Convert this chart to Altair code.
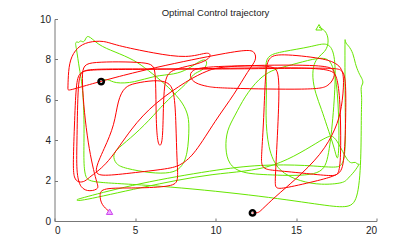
import altair as alt
import pandas as pd

# ---------------- data ----------------
red_x = [12.3, 12.65, 12.8, 13.7, 14.9, 16.6, 17.5, 17.85, 18.0, 17.85, 17.5, 16.8, 13.9, 13.3, 13.1, 13.0, 12.85, 12.85, 13.1, 13.7,
         15.7, 17.4, 17.7, 17.8, 17.75, 17.55, 17.2, 14.0, 10.0, 5.0, 2.0, 1.6, 1.35, 1.25, 1.15, 1.2, 1.5, 1.9, 2.2,
         3.3, 4.76, 6.2, 8.28, 9.5, 10.5, 16.8, 17.4, 17.4, 17.0, 16.2, 10.25, 9.5, 8.7, 8.38, 8.5, 9.3, 13.5, 14.0, 13.9, 13.7,
         13.7, 14.2, 16.56, 17.6, 18.0, 18.1, 18.1, 17.9, 17.3, 10.0, 2.5, 1.7, 1.45, 1.4, 1.35, 1.6, 2.2, 2.8, 2.6, 2.0, 1.6,
         2.0, 6.0, 6.3, 6.3, 6.4, 6.55, 6.7, 6.75, 6.8, 7.2, 8.7, 9.52, 9.73, 9.52, 8.28, 6.2, 3.73, 3.1, 2.07, 1.4, 0.95, 0.85,
         0.83, 0.83, 5.0, 9.97, 12.04, 12.45, 12.56, 12.04, 11.2, 10.0, 8.7, 7.9, 7.3, 5.0, 2.9, 2.4, 3.1, 3.73, 3.93, 4.35,
         4.97, 6.2, 7.04, 7.45, 7.55, 7.6, 7.7, 7.4, 5.0, 2.9, 2.8, 2.9, 3.42]
red_y = [0.4, 0.4, 0.5, 1.2, 2.0, 3.3, 4.6, 5.6, 7.0, 7.55, 7.8, 8.05, 8.3, 8.1, 7.5, 5.0, 3.2, 2.75, 2.55, 2.5,
         2.35, 2.2, 2.35, 3.5, 6.0, 7.2, 7.55, 7.6, 7.55, 7.5, 7.5, 7.35, 7.0, 5.0, 2.8, 2.1, 1.9, 1.95, 2.2,
         2.8, 4.6, 5.83, 6.98, 7.45, 7.7, 7.75, 7.5, 7.1, 6.65, 6.49, 6.57, 6.65, 6.82, 7.14, 7.47, 7.65, 7.72, 7.5, 5.0, 2.0,
         1.6, 1.6, 2.03, 2.28, 2.61, 5.25, 7.0, 7.5, 7.6, 7.5, 7.55, 7.45, 7.0, 4.0, 2.4, 1.6, 1.45, 1.6, 1.9, 4.0, 7.6,
         7.9, 7.88, 7.6, 5.0, 3.9, 3.68, 3.9, 5.0, 7.0, 7.5, 7.72, 7.97, 8.22, 8.38, 8.05, 8.3, 8.71, 8.93, 8.88, 8.6, 8.0, 7.2,
         6.45, 6.45, 7.4, 8.22, 8.5, 8.38, 7.97, 7.47, 6.3, 5.0, 3.3, 2.8, 2.6, 2.4, 2.2, 2.4, 3.6, 4.75, 5.99, 6.65,
         6.82, 6.98, 6.9, 6.49, 4.75, 3.0, 2.0, 1.7, 1.62, 1.65, 1.29, 0.8, 0.46]

green_x = [2.95, 3.3, 3.73, 4.97, 6.2, 7.45, 8.28, 9.1, 9.4, 9.5, 9.2, 8.6, 8.28, 7.0, 6.2, 4.97, 3.93, 3.6, 3.8, 4.35,
           6.0, 7.25, 7.87, 8.28, 8.38, 8.28, 7.87, 6.83, 5.8, 4.97, 3.73, 2.69, 2.03, 1.9, 1.75, 1.6, 1.5, 1.4, 1.28, 1.35,
           1.55, 1.76, 1.86, 1.8, 1.9, 2.3, 6.2, 12.4, 16.56, 18.2, 18.84, 19.05, 19.05, 19.1, 19.0, 19.2, 19.1, 18.9, 18.67,
           18.56, 18.25, 18.05, 18.04, 18.04, 18.1, 17.9, 17.6, 15.7, 12.8, 9.94, 5.2, 1.5, 1.35, 1.45, 5.3, 9.94, 13.66,
           16.98, 17.3, 17.6, 18.2, 18.5, 18.7, 18.85, 19.0, 18.6, 18.2, 18.0, 16.56, 15.3, 13.87, 13.25, 13.1, 13.2, 13.07,
           13.3, 14.1, 16.0, 16.8, 17.3, 17.5, 17.3, 17.0, 16.56, 13.25, 11.6, 10.8, 10.6, 10.7, 11.2, 11.8, 12.7, 13.5,
           14.3, 15.8, 16.8, 17.3, 17.6, 17.7, 17.6, 17.4, 16.9, 16.6, 16.2, 16.0, 16.1, 16.4, 16.8, 17.0, 17.0, 16.8, 16.43]
green_y = [6.95, 7.05, 6.8, 6.85, 7.2, 7.25, 7.5, 7.97, 8.0, 7.75, 7.45, 7.3, 6.82, 6.0, 5.25, 4.26, 3.6, 3.27, 2.8, 2.61,
           2.36, 2.36, 2.61, 3.27, 4.75, 5.33, 5.99, 6.82, 7.47, 7.97, 8.38, 8.71, 9.29, 8.9, 8.85, 8.95, 8.8, 8.9, 8.8, 8.63,
           7.47, 6.65, 4.75, 3.0, 2.1, 1.9, 1.78, 1.29, 0.8, 0.63, 0.96, 2.94, 5.5, 6.15, 6.65, 6.82, 7.06, 7.31, 7.8,
           8.3, 8.71, 8.8, 9.3, 6.0, 3.5, 2.8, 2.61, 2.77, 2.8, 2.53, 1.87, 1.1, 1.05, 0.95, 1.65, 2.4, 2.5,
           4.26, 4.2, 3.93, 2.94, 2.85, 2.95, 2.75, 2.9, 2.4, 2.1, 1.87, 1.78, 1.95, 2.44, 3.6, 5.25, 6.65, 7.8,
           8.22, 8.38, 8.63, 8.83, 8.6, 7.5, 5.0, 3.0, 2.2, 2.28, 2.36, 2.8, 3.6, 4.5, 5.2, 6.15, 7.06, 7.47,
           7.64, 7.97, 8.13, 7.8, 6.5, 4.0, 2.8, 3.6, 4.75, 5.5, 6.32, 7.14, 7.8, 8.13, 8.38, 8.71, 9.12, 9.45, 9.59]

start_x = [12.3, 2.9]
start_y = [0.4, 6.9]
end_green = (16.43, 9.59)
end_red = (3.42, 0.46)

x_ticks = [0, 5, 10, 15, 20]
y_ticks = [0, 1, 2, 3, 4, 5, 6, 7, 8, 9, 10]
title_text = "Optimal Control trajectory"

# ---------------- tables ----------------
red = pd.DataFrame({"x": red_x, "y": red_y, "i": range(len(red_x))})
green = pd.DataFrame({"x": green_x, "y": green_y, "i": range(len(green_x))})
starts = pd.DataFrame({"x": start_x, "y": start_y})
gend = pd.DataFrame({"x": [end_green[0]], "y": [end_green[1]]})
rend = pd.DataFrame({"x": [end_red[0]], "y": [end_red[1]]})
tdf = pd.DataFrame({"t": [title_text]})

FONT = "Liberation Sans"
W, H = 322, 202
xs = alt.Scale(domain=[0, 20], nice=False, zero=False)
ys = alt.Scale(domain=[0, 10], nice=False, zero=False)

xax = alt.Axis(values=x_ticks, title=None, grid=True, gridDash=[0, H - 3, 3, 50], gridColor="#777",
               gridOpacity=1, gridWidth=1, tickSize=0, domainColor="#777", labelPadding=4,
               labelFont=FONT, labelFontSize=10, labelColor="#222")
yax = alt.Axis(values=y_ticks, title=None, grid=True, gridDash=[3, 2000], gridColor="#777",
               gridOpacity=1, gridWidth=1, tickSize=0, domainColor="#777", labelPadding=4,
               labelFont=FONT, labelFontSize=10, labelColor="#222")

base_x = alt.X("x:Q", scale=xs, axis=xax)
base_y = alt.Y("y:Q", scale=ys, axis=yax)
px = alt.X("x:Q", scale=xs)
py = alt.Y("y:Q", scale=ys)

green_line = alt.Chart(green).mark_line(color="#66e600", strokeWidth=1.0, interpolate="basis").encode(
    x=base_x, y=base_y, order="i:Q")
red_line = alt.Chart(red).mark_line(color="#ff0000", strokeWidth=1.0, interpolate="basis").encode(
    x=px, y=py, order="i:Q")
circles = alt.Chart(starts).mark_point(shape="circle", filled=False, color="black", strokeWidth=2.6,
                                        size=28, opacity=1).encode(x=px, y=py)
gtri = alt.Chart(gend).mark_point(shape="triangle-up", filled=False, color="#66e600", strokeWidth=1,
                                   size=40, opacity=1).encode(x=px, y=py)
rtri = alt.Chart(rend).mark_point(shape="triangle-up", filled=True, fill="#f0a8ff", stroke="#cc44ee",
                                   strokeWidth=1, size=40, opacity=1).encode(x=px, y=py)
title = alt.Chart(tdf).mark_text(font=FONT, fontSize=9.5, color="#222", baseline="alphabetic",
                                  align="center").encode(
    text="t:N", x=alt.value(W / 2), y=alt.value(-3.5))

chart = alt.layer(green_line, red_line, circles, gtri, rtri, title).properties(
    width=W, height=H,
    autosize=alt.AutoSizeParams(type="none"),
    padding={"left": 46.5, "top": 11, "right": 20, "bottom": 25},
).configure_view(stroke=None)

chart.save("out.html", embed_options={"renderer": "svg", "actions": False})
